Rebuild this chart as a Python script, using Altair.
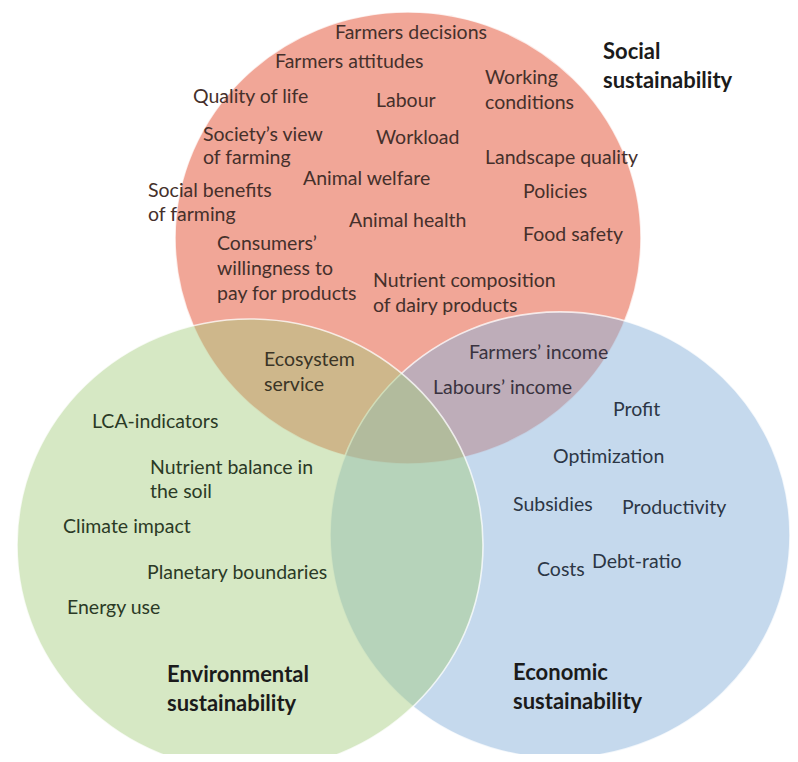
import altair as alt
import pandas as pd

# ---- circle data (diagram units = pixels of the 798x762 picture) ----
circle_names = ["Social", "Economic", "Environmental"]
circle_cx = [408, 560, 250]
circle_cy = [238, 535, 545]
circle_rx = [233, 230, 233]
circle_fill = ["#F1A697", "#8BB3DB", "#A4CC7C"]
circle_alpha = [1.0, 0.5, 0.45]
circle_order = [1, 2, 3]

# ---- label data ----
labels = [
    "Farmers decisions", "Farmers attitudes", "Quality of life", "Labour",
    "Working", "conditions", "Society\u2019s view", "of farming", "Workload",
    "Landscape quality", "Animal welfare", "Social benefits", "of farming",
    "Policies", "Animal health", "Food safety", "Consumers\u2019",
    "willingness to", "pay for products", "Nutrient composition",
    "of dairy products",
    "Ecosystem", "service",
    "Farmers\u2019 income", "Labours\u2019 income",
    "Profit", "Optimization", "Subsidies", "Productivity", "Costs", "Debt-ratio",
    "LCA-indicators", "Nutrient balance in", "the soil", "Climate impact",
    "Planetary boundaries", "Energy use",
]
label_x = [
    335, 275, 193, 376,
    485, 485, 203, 203, 376,
    485, 303, 148, 148,
    523, 349, 523, 217,
    217, 217, 373,
    373,
    264, 264,
    469, 433,
    613, 553, 513, 622, 537, 592,
    92, 150, 150, 63,
    147, 67,
]
label_y = [
    33, 62, 97, 101,
    78, 103, 135, 158, 138,
    158, 179, 191, 215,
    192, 221, 235, 244,
    269, 294, 281,
    306,
    360, 385,
    353, 388,
    410, 457, 505, 508, 570, 562,
    422, 468, 492, 527,
    573, 608,
]
label_region = (["social"] * 21 + ["socenv"] * 2 + ["socecon"] * 2
                + ["econ"] * 6 + ["env"] * 6)

titles = ["Social", "sustainability", "Environmental", "sustainability",
          "Economic", "sustainability"]
title_x = [603, 603, 167, 167, 513, 513]
title_y = [52, 81, 675, 704, 673, 702]

circles = pd.DataFrame({
    "name": circle_names, "cx": circle_cx, "cy": circle_cy, "rx": circle_rx,
    "fill": circle_fill, "alpha": circle_alpha, "ord": circle_order,
})
texts = pd.DataFrame({"label": labels, "x": label_x, "y": label_y,
                      "region": label_region})
heads = pd.DataFrame({"label": titles, "x": title_x, "y": title_y})

W, H = 782, 746
xs = alt.Scale(domain=[8, 8 + W], nice=False, zero=False)
ys = alt.Scale(domain=[8, 8 + H], nice=False, zero=False, reverse=True)

k = 0.97   # vertical / horizontal radius ratio
c = 0.5523
ellipse = (f"M 1 0 C 1 {c*k:.4f} {c} {k} 0 {k} "
           f"C {-c} {k} -1 {c*k:.4f} -1 0 "
           f"C -1 {-c*k:.4f} {-c} {-k} 0 {-k} "
           f"C {c} {-k} 1 {-c*k:.4f} 1 0 Z")

circ = alt.Chart(circles).transform_calculate(
    sz="pow(2*datum.rx, 2)"
).mark_point(
    shape=ellipse, filled=True, opacity=1, stroke="white",
    strokeWidth=1.6, strokeOpacity=0.75
).encode(
    x=alt.X("cx:Q", scale=xs, axis=None),
    y=alt.Y("cy:Q", scale=ys, axis=None),
    size=alt.Size("sz:Q", scale=None, legend=None),
    fill=alt.Fill("fill:N", scale=None, legend=None),
    fillOpacity=alt.FillOpacity("alpha:Q", scale=None, legend=None),
    order=alt.Order("ord:Q"),
)

txt = alt.Chart(texts).mark_text(
    align="left", baseline="middle", font="Lato", fontSize=19.5
).encode(
    x=alt.X("x:Q", scale=xs, axis=None),
    y=alt.Y("y:Q", scale=ys, axis=None),
    text="label:N",
    color=alt.Color("region:N", legend=None, scale=alt.Scale(
        domain=["social", "socenv", "socecon", "econ", "env"],
        range=["#45302b", "#3b3526", "#3a3340", "#2c3645", "#2b3a26"])),
)

ttl = alt.Chart(heads).mark_text(
    align="left", baseline="middle", font="Lato", fontSize=22,
    fontWeight="bold", color="#1b1b1b"
).encode(
    x=alt.X("x:Q", scale=xs, axis=None),
    y=alt.Y("y:Q", scale=ys, axis=None),
    text="label:N",
)

chart = alt.layer(circ, txt, ttl).properties(
    width=W, height=H, padding=0, autosize=alt.AutoSizeParams(type="none"),
    background="white"
).configure_view(stroke=None, strokeWidth=0)

chart.save("out.html", embed_options={"renderer": "svg", "actions": False})
